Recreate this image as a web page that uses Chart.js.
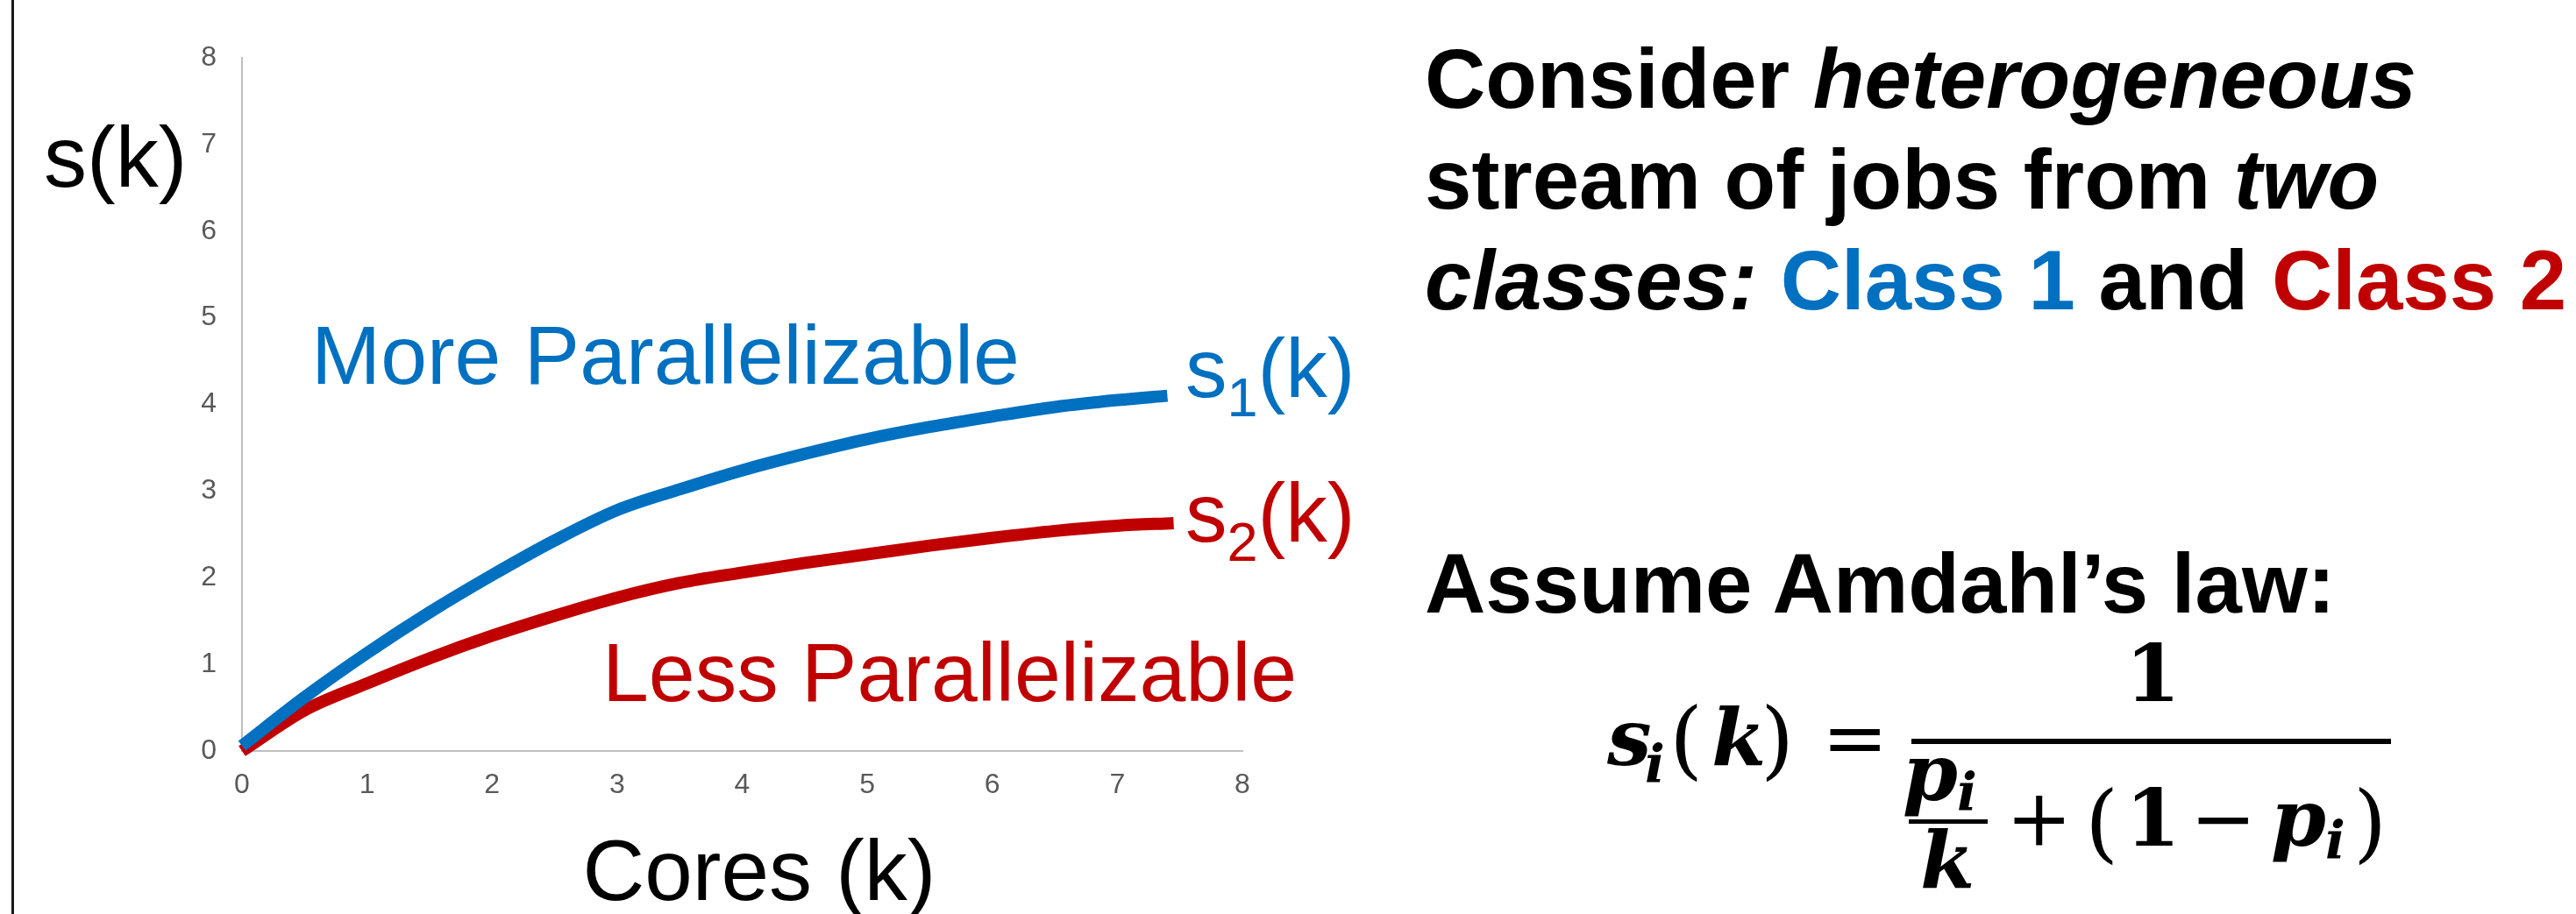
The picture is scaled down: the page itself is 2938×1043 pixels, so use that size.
<!DOCTYPE html>
<html>
<head>
<meta charset="utf-8">
<script src="https://cdn.jsdelivr.net/npm/chart.js@4.4.1/dist/chart.umd.min.js"></script>
<style>
  html, body { margin: 0; padding: 0; background: #fff; }
  body { width: 2938px; height: 1043px; position: relative; overflow: hidden;
         font-family: "Liberation Sans", Arial, sans-serif; }
  #rule { position: absolute; left: 13px; top: 0; width: 3px; height: 1043px; background: #1a1a1a; }
  #speedupChart { position: absolute; left: 0; top: 0; }
  .side { position: absolute; left: 1625px; font-weight: bold; font-size: 96px;
          line-height: 115px; color: #000; white-space: nowrap; }
  .blue { color: #0070C0; }
  .red { color: #C00000; }
  .math { position: absolute; white-space: nowrap; color: #000; }
  .bar { position: absolute; background: #000; }
</style>
</head>
<body>
<div id="rule"></div>
<canvas id="speedupChart" width="1560" height="1043"></canvas>

<div class="side" style="top:32px">Consider <i>heterogeneous</i><br>stream of jobs from <i>two</i><br><i>classes:</i> <span class="blue">Class 1</span> and <span class="red">Class 2</span></div>
<div class="side" style="top:608px">Assume Amdahl’s law:</div>

<script>
// cores k and speedup s(k) for the two job classes
const coresClass1 = [0, 0.5, 1, 1.5, 2, 2.5, 3, 3.5, 4, 4.5, 5, 5.5, 6, 6.5, 7, 7.4];
const speedupClass1 = [0.06, 0.62, 1.13, 1.6, 2.03, 2.43, 2.78, 3.02, 3.24, 3.43, 3.6, 3.74, 3.86, 3.97, 4.05, 4.1];
const coresClass2 = [0, 0.5, 1, 1.5, 2, 2.5, 3, 3.5, 4, 4.5, 5, 5.5, 6, 6.5, 7, 7.45];
const speedupClass2 = [0, 0.47, 0.78, 1.07, 1.33, 1.56, 1.77, 1.94, 2.06, 2.17, 2.27, 2.37, 2.46, 2.54, 2.6, 2.63];
const coreTicks = [0, 1, 2, 3, 4, 5, 6, 7, 8];
const speedupTicks = [0, 1, 2, 3, 4, 5, 6, 7, 8];

const BLUE = "#0070C0";
const RED = "#C00000";
const SANS = '"Liberation Sans", Arial, sans-serif';

const toPoints = (xs, ys) => xs.map((x, i) => ({ x: x, y: ys[i] }));

// text placed straight onto the chart canvas
const chartText = {
  id: "chartText",
  afterDatasetsDraw(chart) {
    const ctx = chart.ctx;
    ctx.save();
    ctx.textBaseline = "alphabetic";
    ctx.textAlign = "left";

    ctx.fillStyle = "#000";
    ctx.font = "98px " + SANS;
    ctx.fillText("s(k)", 50, 213);
    ctx.textAlign = "center";
    ctx.fillText("Cores (k)", 866, 1027);
    ctx.textAlign = "left";

    ctx.font = "95px " + SANS;
    ctx.fillStyle = BLUE;
    ctx.fillText("More Parallelizable", 355, 438);
    ctx.fillStyle = RED;
    ctx.fillText("Less Parallelizable", 687, 800);

    const subLabel = (sub, x, y, color) => {
      ctx.fillStyle = color;
      ctx.font = "95px " + SANS;
      ctx.fillText("s", x, y);
      let w = ctx.measureText("s").width;
      ctx.font = "63px " + SANS;
      ctx.fillText(sub, x + w, y + 22);
      w += ctx.measureText(sub).width;
      ctx.font = "95px " + SANS;
      ctx.fillText("(k)", x + w, y);
    };
    subLabel("1", 1352, 453, BLUE);
    subLabel("2", 1352, 618, RED);
    ctx.restore();
  }
};

new Chart(document.getElementById("speedupChart"), {
  type: "line",
  data: {
    datasets: [
      {
        label: "s1(k)",
        data: toPoints(coresClass1, speedupClass1),
        borderColor: BLUE,
        borderWidth: 14,
        borderCapStyle: "butt",
        borderJoinStyle: "round",
        cubicInterpolationMode: "monotone",
        pointRadius: 0,
        fill: false,
        clip: false
      },
      {
        label: "s2(k)",
        data: toPoints(coresClass2, speedupClass2),
        borderColor: RED,
        borderWidth: 14,
        borderCapStyle: "butt",
        borderJoinStyle: "round",
        cubicInterpolationMode: "monotone",
        pointRadius: 0,
        fill: false,
        clip: false
      }
    ]
  },
  options: {
    responsive: false,
    animation: false,
    devicePixelRatio: 1,
    layout: { padding: { top: 66, right: 143, left: 0, bottom: 0 } },
    plugins: { legend: { display: false }, tooltip: { enabled: false } },
    scales: {
      x: {
        type: "linear",
        min: 0,
        max: 8,
        afterBuildTicks: (s) => { s.ticks = coreTicks.map((v) => ({ value: v })); },
        afterFit: (s) => { s.height = 186; },
        grid: { display: false, drawTicks: false },
        border: { color: "#c0c0c0", width: 2 },
        ticks: { color: "#595959", font: { family: SANS, size: 32 }, padding: 20, maxRotation: 0 }
      },
      y: {
        type: "linear",
        min: 0,
        max: 8,
        afterBuildTicks: (s) => { s.ticks = speedupTicks.map((v) => ({ value: v })); },
        afterFit: (s) => { s.width = 276; },
        grid: { display: false, drawTicks: false },
        border: { color: "#c0c0c0", width: 2 },
        ticks: { color: "#595959", font: { family: SANS, size: 32 }, padding: 29 }
      }
    }
  },
  plugins: [chartText]
});

// Amdahl's law formula, each piece set on its own baseline
const measure = document.createElement("canvas").getContext("2d");
function mathText(text, x, baseline, size, style) {
  const font = style + " " + size + 'px "DejaVu Serif", serif';
  measure.font = font;
  const m = measure.measureText(text);
  const el = document.createElement("span");
  el.className = "math";
  el.textContent = text;
  el.style.font = font;
  el.style.lineHeight = size + "px";
  el.style.left = x + "px";
  el.style.top = (baseline - (size + m.fontBoundingBoxAscent - m.fontBoundingBoxDescent) / 2) + "px";
  document.body.appendChild(el);
}
function bar(x, y, w, h) {
  const el = document.createElement("div");
  el.className = "bar";
  el.style.left = x + "px";
  el.style.top = y + "px";
  el.style.width = w + "px";
  el.style.height = h + "px";
  document.body.appendChild(el);
}

mathText("s", 1833, 873, 90, "italic bold");
mathText("i", 1876, 893, 60, "italic bold");
mathText("(", 1904, 877, 98, "normal");
mathText("k", 1952, 873, 90, "italic bold");
mathText(")", 2008, 877, 98, "normal");
mathText("=", 2078, 873, 90, "normal");
bar(2180, 843, 547, 6);
mathText("1", 2424, 800, 90, "bold");
mathText("p", 2170, 913, 90, "italic bold");
mathText("i", 2232, 925, 60, "italic bold");
bar(2177, 935, 90, 5);
mathText("k", 2190, 1013, 90, "italic bold");
mathText("+", 2288, 965, 90, "normal");
mathText("(", 2378, 972, 98, "normal");
mathText("1", 2424, 965, 90, "bold");
mathText("−", 2498, 965, 90, "normal");
mathText("p", 2590, 965, 90, "italic bold");
mathText("i", 2652, 980, 60, "italic bold");
mathText(")", 2684, 972, 98, "normal");
</script>
</body>
</html>
